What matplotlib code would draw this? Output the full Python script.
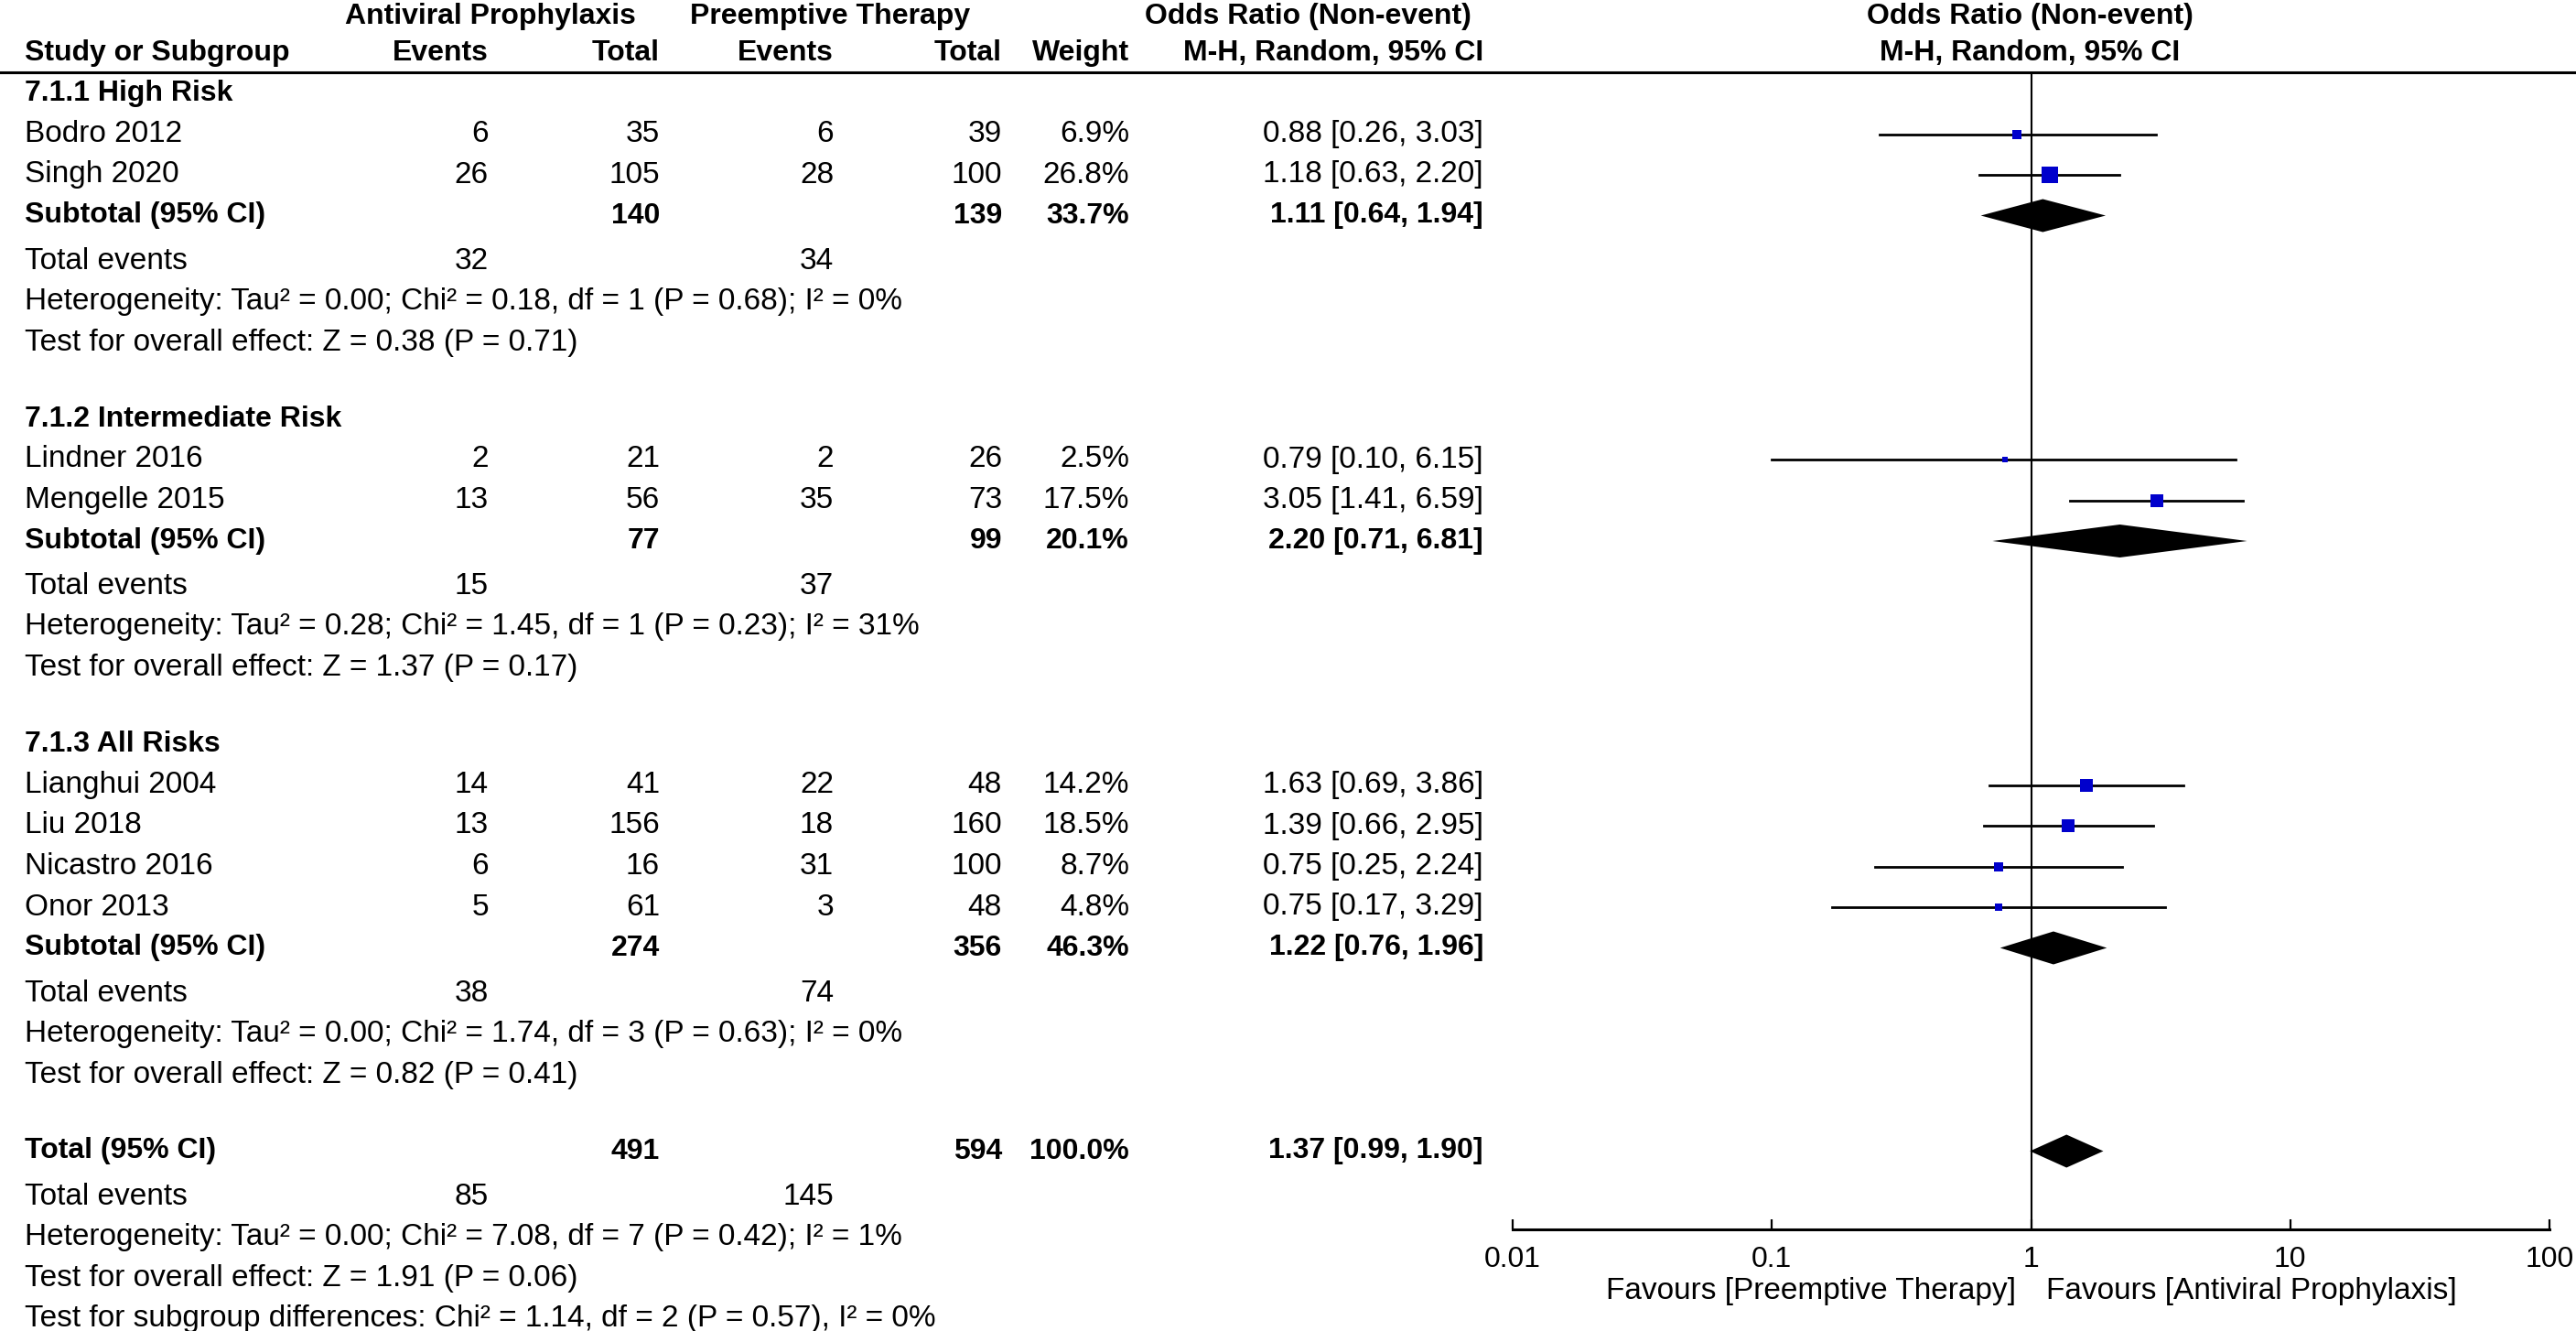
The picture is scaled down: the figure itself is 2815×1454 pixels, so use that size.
import matplotlib
matplotlib.use("Agg")
import matplotlib.pyplot as plt
import numpy as np
from matplotlib.ticker import FixedLocator, NullFormatter

plt.rcParams["font.family"] = ["Liberation Sans", "DejaVu Sans"]

# ---- data ----
studies = ["Bodro 2012", "Singh 2020", "Lindner 2016", "Mengelle 2015",
           "Lianghui 2004", "Liu 2018", "Nicastro 2016", "Onor 2013"]
study_group = [0, 0, 1, 1, 2, 2, 2, 2]
ev_ap = [6, 26, 2, 13, 14, 13, 6, 5]
tot_ap = [35, 105, 21, 56, 41, 156, 16, 61]
ev_pt = [6, 28, 2, 35, 22, 18, 31, 3]
tot_pt = [39, 100, 26, 73, 48, 160, 100, 48]
weight = [6.9, 26.8, 2.5, 17.5, 14.2, 18.5, 8.7, 4.8]
odds = [0.88, 1.18, 0.79, 3.05, 1.63, 1.39, 0.75, 0.75]
ci_lo = [0.26, 0.63, 0.10, 1.41, 0.69, 0.66, 0.25, 0.17]
ci_hi = [3.03, 2.20, 6.15, 6.59, 3.86, 2.95, 2.24, 3.29]

groups = ["7.1.1 High Risk", "7.1.2 Intermediate Risk", "7.1.3 All Risks"]
sub_tot_ap = [140, 77, 274]
sub_tot_pt = [139, 99, 356]
sub_weight = [33.7, 20.1, 46.3]
sub_or = [1.11, 2.20, 1.22]
sub_lo = [0.64, 0.71, 0.76]
sub_hi = [1.94, 6.81, 1.96]
sub_ev_ap = [32, 15, 38]
sub_ev_pt = [34, 37, 74]
sub_het = ["Heterogeneity: Tau\u00b2 = 0.00; Chi\u00b2 = 0.18, df = 1 (P = 0.68); I\u00b2 = 0%",
           "Heterogeneity: Tau\u00b2 = 0.28; Chi\u00b2 = 1.45, df = 1 (P = 0.23); I\u00b2 = 31%",
           "Heterogeneity: Tau\u00b2 = 0.00; Chi\u00b2 = 1.74, df = 3 (P = 0.63); I\u00b2 = 0%"]
sub_z = ["Test for overall effect: Z = 0.38 (P = 0.71)",
         "Test for overall effect: Z = 1.37 (P = 0.17)",
         "Test for overall effect: Z = 0.82 (P = 0.41)"]

total_ap, total_pt, total_w = 491, 594, 100.0
total_or, total_lo, total_hi = 1.37, 0.99, 1.90
total_ev_ap, total_ev_pt = 85, 145
total_het = "Heterogeneity: Tau\u00b2 = 0.00; Chi\u00b2 = 7.08, df = 7 (P = 0.42); I\u00b2 = 1%"
total_z = "Test for overall effect: Z = 1.91 (P = 0.06)"
subgroup_test = "Test for subgroup differences: Chi\u00b2 = 1.14, df = 2 (P = 0.57), I\u00b2 = 0%"

ticks = [0.01, 0.1, 1, 10, 100]
tick_labels = ["0.01", "0.1", "1", "10", "100"]

# ---- layout (pixels of the 2815x1454 canvas) ----
W, H = 2815, 1454
FS, FS_B = 24, 23
X_NAME, X_EAP, X_TAP, X_EPT, X_TPT, X_W, X_OR = 27, 534, 721, 911, 1095, 1234, 1621
AX_L, AX_R, AX_TOP, AX_BOT = 1653, 2786, 79, 1343
STEP, GAP_TE, GAP_GRP = 44.5, 49.5, 83.5
BLUE = "#0000CC"

fig = plt.figure(figsize=(W / 100, H / 100), dpi=100)
tx = fig.add_axes([0, 0, 1, 1])
tx.set_xlim(0, W)
tx.set_ylim(H, 0)
tx.axis("off")

ax = fig.add_axes([AX_L / W, 1 - AX_BOT / H, (AX_R - AX_L) / W, (AX_BOT - AX_TOP) / H])
ax.patch.set_alpha(0)
ax.set_xscale("log")
ax.set_xlim(0.01, 100)
ax.set_ylim(AX_BOT, AX_TOP)


def t(x, y, s, ha="right", bold=False):
    tx.text(x, y, s, ha=ha, va="center", fontsize=FS_B if bold else FS,
            fontweight="bold" if bold else "normal", color="black")


def fmt_ci(o, l, h):
    return f"{o:.2f} [{l:.2f}, {h:.2f}]"


def diamond(y, o, l, h):
    hh = 18
    ax.fill([l, o, h, o], [y, y - hh, y, y + hh], color="black", lw=0, zorder=3)


# headers
t(536, 18, "Antiviral Prophylaxis", ha="center", bold=True)
t(907, 18, "Preemptive Therapy", ha="center", bold=True)
t(1429, 18, "Odds Ratio (Non-event)", ha="center", bold=True)
t(2218, 18, "Odds Ratio (Non-event)", ha="center", bold=True)
t(X_NAME, 58, "Study or Subgroup", ha="left", bold=True)
t(X_EAP, 58, "Events", bold=True)
t(X_TAP, 58, "Total", bold=True)
t(X_EPT, 58, "Events", bold=True)
t(X_TPT, 58, "Total", bold=True)
t(X_W, 58, "Weight", bold=True)
t(X_OR, 58, "M-H, Random, 95% CI", bold=True)
t(2218, 58, "M-H, Random, 95% CI", ha="center", bold=True)
tx.axhline(AX_TOP, color="black", lw=2.2)

y = 102
for g, gname in enumerate(groups):
    t(X_NAME, y, gname, ha="left", bold=True)
    for i in [k for k, sg in enumerate(study_group) if sg == g]:
        y += STEP
        t(X_NAME, y, studies[i], ha="left")
        t(X_EAP, y, str(ev_ap[i]))
        t(X_TAP, y, str(tot_ap[i]))
        t(X_EPT, y, str(ev_pt[i]))
        t(X_TPT, y, str(tot_pt[i]))
        t(X_W, y, f"{weight[i]:.1f}%")
        t(X_OR, y, fmt_ci(odds[i], ci_lo[i], ci_hi[i]))
        ax.plot([ci_lo[i], ci_hi[i]], [y, y], color="black", lw=2, zorder=2)
        ax.plot(odds[i], y, marker="s", color=BLUE, ms=2.5 * np.sqrt(weight[i]),
                mew=0, zorder=4)
    y += STEP
    t(X_NAME, y, "Subtotal (95% CI)", ha="left", bold=True)
    t(X_TAP, y, str(sub_tot_ap[g]), bold=True)
    t(X_TPT, y, str(sub_tot_pt[g]), bold=True)
    t(X_W, y, f"{sub_weight[g]:.1f}%", bold=True)
    t(X_OR, y, fmt_ci(sub_or[g], sub_lo[g], sub_hi[g]), bold=True)
    diamond(y, sub_or[g], sub_lo[g], sub_hi[g])
    y += GAP_TE
    t(X_NAME, y, "Total events", ha="left")
    t(X_EAP, y, str(sub_ev_ap[g]))
    t(X_EPT, y, str(sub_ev_pt[g]))
    y += STEP
    t(X_NAME, y, sub_het[g], ha="left")
    y += STEP
    t(X_NAME, y, sub_z[g], ha="left")
    y += GAP_GRP

t(X_NAME, y, "Total (95% CI)", ha="left", bold=True)
t(X_TAP, y, str(total_ap), bold=True)
t(X_TPT, y, str(total_pt), bold=True)
t(X_W, y, f"{total_w:.1f}%", bold=True)
t(X_OR, y, fmt_ci(total_or, total_lo, total_hi), bold=True)
diamond(y, total_or, total_lo, total_hi)
y += GAP_TE
t(X_NAME, y, "Total events", ha="left")
t(X_EAP, y, str(total_ev_ap))
t(X_EPT, y, str(total_ev_pt))
y += STEP
t(X_NAME, y, total_het, ha="left")
y += STEP
t(X_NAME, y, total_z, ha="left")
y += STEP
t(X_NAME, y, subgroup_test, ha="left")

# forest axis
ax.axvline(1, color="black", lw=1.5, zorder=1)
for s in ["top", "left", "right"]:
    ax.spines[s].set_visible(False)
ax.spines["bottom"].set_linewidth(2.2)
ax.set_yticks([])
ax.set_xticks(ticks)
ax.set_xticklabels(tick_labels)
ax.xaxis.set_minor_locator(FixedLocator([ticks[0], ticks[-1]]))
ax.xaxis.set_minor_formatter(NullFormatter())
ax.tick_params(axis="x", which="major", direction="in", length=8, width=1.6,
               pad=13, labelsize=23)
ax.tick_params(axis="x", which="minor", direction="inout", length=17, width=1.6)

t(2203, 1410, "Favours [Preemptive Therapy]")
t(2236, 1410, "Favours [Antiviral Prophylaxis]", ha="left")

fig.savefig("out.png", dpi=100, facecolor="white")
